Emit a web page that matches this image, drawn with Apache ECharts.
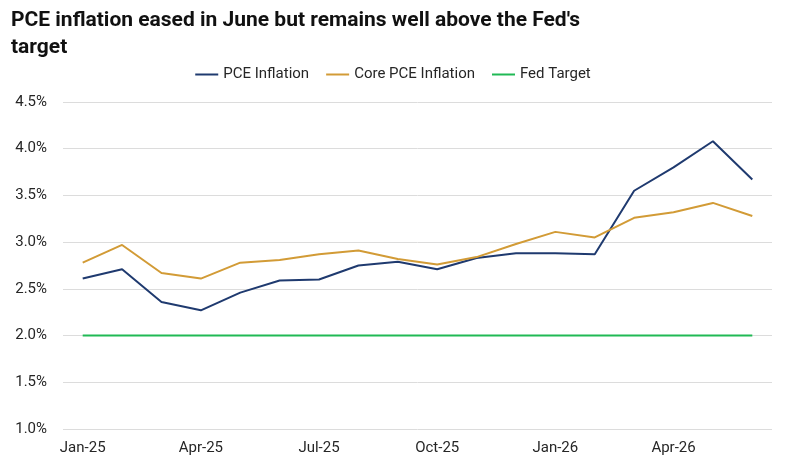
<!DOCTYPE html>
<html lang="en">
<head>
  <meta charset="UTF-8">
  <title>PCE inflation</title>
  <script src="https://cdn.jsdelivr.net/npm/echarts@6/dist/echarts.min.js"></script>
  <style>
    html, body { margin: 0; padding: 0; background: #fff; }
  </style>
</head>
<body>
<div id="main" style="width: 786px;height: 470px"></div>
<script>
  const months = ['Jan-25', 'Feb-25', 'Mar-25', 'Apr-25', 'May-25', 'Jun-25', 'Jul-25', 'Aug-25', 'Sep-25',
    'Oct-25', 'Nov-25', 'Dec-25', 'Jan-26', 'Feb-26', 'Mar-26', 'Apr-26', 'May-26', 'Jun-26'];
  const pce = [2.61, 2.71, 2.36, 2.27, 2.46, 2.59, 2.60, 2.75, 2.79, 2.71, 2.83, 2.88, 2.88, 2.87, 3.55, 3.80, 4.08, 3.67];
  const corePce = [2.78, 2.97, 2.67, 2.61, 2.78, 2.81, 2.87, 2.91, 2.82, 2.76, 2.84, 2.98, 3.11, 3.05, 3.26, 3.32, 3.42, 3.28];
  const fedTarget = [2.0, 2.0, 2.0, 2.0, 2.0, 2.0, 2.0, 2.0, 2.0, 2.0, 2.0, 2.0, 2.0, 2.0, 2.0, 2.0, 2.0, 2.0];

  const font = 'Roboto, "Open Sans", sans-serif';
  var chart = echarts.init(document.getElementById('main'));

  function line(name, data, color) {
    return {
      name: name,
      type: 'line',
      data: data,
      symbol: 'none',
      lineStyle: { color: color, width: 2 },
      itemStyle: { color: color },
      animation: false
    };
  }

  var option = {
    title: {
      text: "PCE inflation eased in June but remains well above the Fed's\ntarget",
      left: 6,
      top: 2,
      textStyle: { fontFamily: font, fontSize: 21, fontWeight: 'bold', color: '#111', lineHeight: 27 }
    },
    legend: {
      top: 62,
      left: 'center',
      itemWidth: 23,
      itemHeight: 2,
      itemGap: 17,
      icon: 'rect',
      textStyle: { fontFamily: font, fontSize: 15, color: '#262626' },
      data: ['PCE Inflation', 'Core PCE Inflation', 'Fed Target']
    },
    grid: { left: 63, right: 14, top: 102, bottom: 41 },
    xAxis: {
      type: 'category',
      data: months,
      boundaryGap: true,
      axisLine: { show: false },
      axisTick: { show: false },
      axisLabel: {
        interval: 2,
        margin: 12,
        fontFamily: font,
        fontSize: 15,
        color: '#262626'
      }
    },
    yAxis: {
      type: 'value',
      min: 1.0,
      max: 4.5,
      interval: 0.5,
      axisLine: { show: false },
      axisTick: { show: false },
      splitLine: { lineStyle: { color: '#dcdcdc', width: 1 } },
      axisLabel: {
        margin: 16,
        fontFamily: font,
        fontSize: 15,
        color: '#262626',
        formatter: function (v) { return v.toFixed(1) + '%'; }
      }
    },
    series: [
      line('PCE Inflation', pce, '#1f3a6f'),
      line('Core PCE Inflation', corePce, '#d29b36'),
      line('Fed Target', fedTarget, '#20b955')
    ]
  };
  chart.setOption(option);
</script>
</body>
</html>
